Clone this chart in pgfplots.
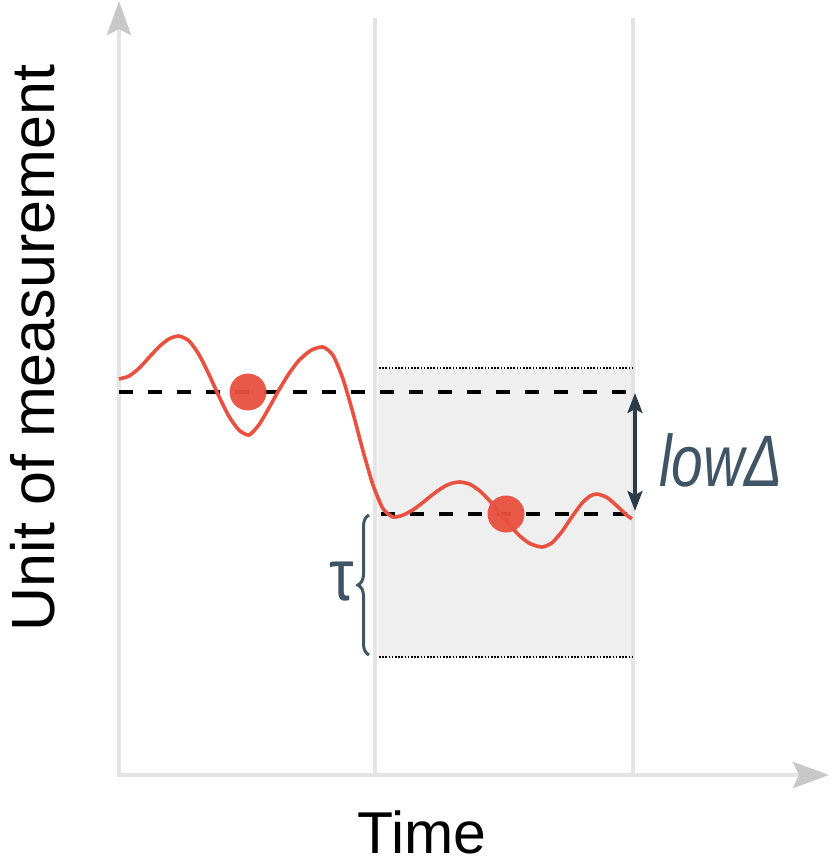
\documentclass[border=0pt]{standalone}
\usepackage{pgfplots}
\pgfplotsset{compat=1.18}
\usepackage{fontspec}
\setmainfont{Liberation Sans}
\usetikzlibrary{arrows.meta,decorations.pathreplacing}
\definecolor{axgray}{HTML}{E4E4E4}
\definecolor{headgray}{HTML}{C8C8C8}
\definecolor{boxgray}{HTML}{EFEFEF}
\definecolor{myred}{HTML}{E8503F}
\definecolor{slate}{HTML}{3F5566}
\definecolor{darkslate}{HTML}{2C3B48}
\begin{document}
\begin{tikzpicture}
\begin{axis}[
  scale only axis, width=830pt, height=862pt,
  xmin=0, xmax=830, ymin=0, ymax=862, y dir=reverse,
  axis lines=none, clip=false,
]
% shaded box
\addplot[draw=none, fill=boxgray] coordinates {(378,368)(633,368)(633,657)(378,657)} -- cycle;
% vertical lines
\addplot[axgray, line width=4pt] coordinates {(375,18)(375,775)};
\addplot[axgray, line width=4pt] coordinates {(633,18)(633,775)};
% axes
\draw[axgray, line width=4.5pt, -{Stealth[length=34pt,width=24pt,inset=6pt,color=headgray]}] (axis cs:119,777) -- (axis cs:119,1);
\draw[axgray, line width=4.5pt, -{Stealth[length=36pt,width=26pt,inset=6pt,color=headgray]}] (axis cs:117,775) -- (axis cs:829,775);
% dotted borders
\addplot[black, line width=1.6pt, dash pattern=on 1.6pt off 1.6pt] coordinates {(379,368)(633,368)};
\addplot[black, line width=1.6pt, dash pattern=on 1.6pt off 1.6pt] coordinates {(379,657)(633,657)};
% dashed lines
\addplot[black, line width=4pt, dash pattern=on 14pt off 15pt] coordinates {(119,392)(630,392)};
\addplot[black, line width=4pt, dash pattern=on 14pt off 15pt] coordinates {(381,514)(630,514)};
% red curve
\addplot[myred, line width=3.6pt, smooth, tension=0.4] coordinates {
(119,379)(129,376.1)(139,368.3)(149,357.5)(159,346.8)(169,338.9)(179,336)(189,340.9)(199,354.6)(209,374.5)(219,396.5)(229,416.4)(239,430.1)(249,435)(259,424.7)(269,407.8)(279,389.9)(289,373.5)(299,360.4)(311,350.3)(323,347)(333,355.3)(343,379.0)(353,413.1)(363,450.9)(373,485.0)(383,508.7)(393,517)(403,515.1)(413,509.8)(423,502.4)(433,494.3)(443,487.3)(451,483.5)(460,482)(470,484.3)(480,491.1)(490,501.2)(500,513.3)(510,525.5)(520,536.1)(530,543.6)(542,547)(552,542.8)(562,531.5)(572,516.7)(582,503.2)(590,496.1)(597,494)(607,497.5)(617,506.0)(627,515.4)(632,518.8)};
% dots
\addplot[only marks, mark=*, mark size=18.5pt, color=myred, fill opacity=0.95, draw opacity=0] coordinates {(248,392)(506,514)};
% double arrow
\draw[darkslate, line width=3.5pt, {Stealth[length=20pt,width=15pt,inset=4pt]}-{Stealth[length=20pt,width=15pt,inset=4pt]}] (axis cs:635,393) -- (axis cs:635,511);
% brace
\draw[slate, line width=3pt, decorate, decoration={brace, amplitude=11pt}] (axis cs:369,655) -- (axis cs:369,515);
% labels
\node[slate, anchor=center] at (axis cs:342,582) {\scalebox{0.85}[1]{\fontsize{73}{80}\selectfont τ}};
\node[slate, anchor=west, inner sep=0pt] at (axis cs:659,460) {\scalebox{0.78}[1]{\fontsize{73}{80}\selectfont\itshape lowΔ}};
\node[black, rotate=90, anchor=center] at (axis cs:33,348) {\fontsize{61}{70}\selectfont Unit of measurement};
\node[black, anchor=center] at (axis cs:422,832) {\fontsize{59}{70}\selectfont Time};
\end{axis}
\pgfresetboundingbox
\path (current axis.south west) rectangle (current axis.north east);
\end{tikzpicture}
\end{document}
